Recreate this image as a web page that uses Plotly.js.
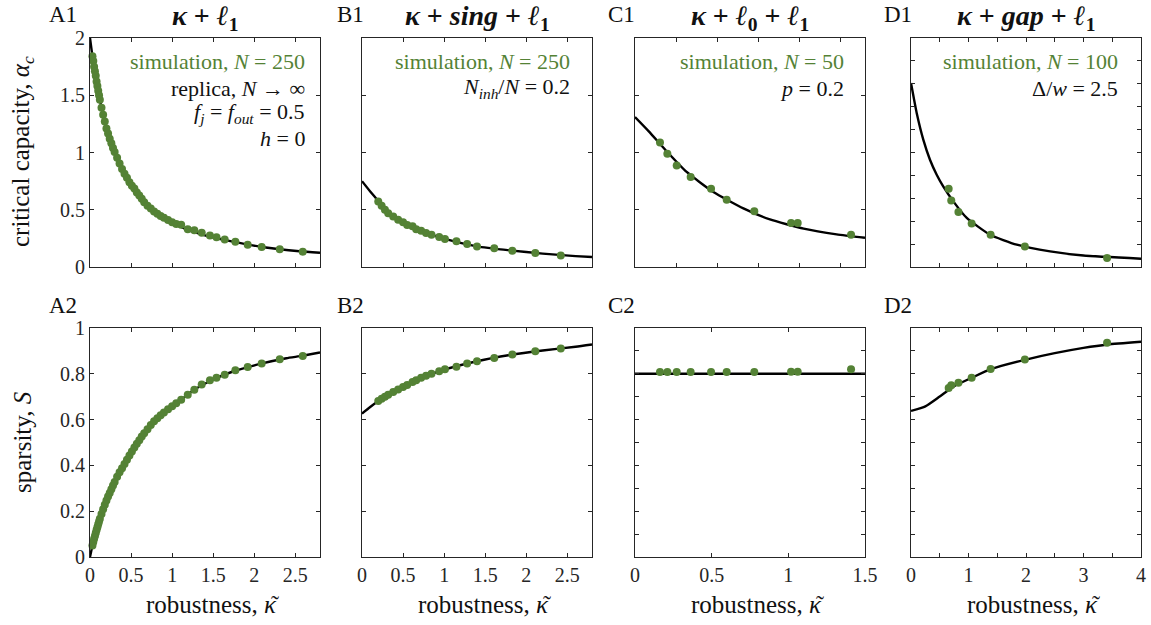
<!DOCTYPE html>
<html>
<head>
<meta charset="utf-8">
<script src="https://cdn.plot.ly/plotly-3.0.1.min.js"></script>
<style>html,body{margin:0;padding:0;background:#fff;}#chart{width:1151px;height:625px;}</style>
</head>
<body>
<div id="chart"></div>
<script>
// ---------- DATA ----------
// Panel A: kappa + l1
const A_kappa_sim = [0.03,0.04,0.05,0.06,0.07,0.08,0.09,0.10,0.11,0.12,0.14,0.16,0.18,0.20,0.22,0.24,0.26,0.28,0.30,0.33,0.36,0.39,0.42,0.45,0.48,0.51,0.54,0.57,0.60,0.63,0.66,0.70,0.74,0.78,0.82,0.86,0.90,0.95,1.00,1.05,
  1.11,1.19,1.27,1.36,1.46,1.54,1.64,1.77,1.92,2.09,2.31,2.59];
const A_alpha_sim = [1.84,1.80,1.75,1.71,1.67,1.62,1.58,1.54,1.50,1.46,1.39,1.33,1.27,1.21,1.165,1.12,1.08,1.04,1.005,0.955,0.905,0.855,0.815,0.78,0.74,0.71,0.685,0.65,0.625,0.595,0.565,0.535,0.51,0.485,0.465,0.445,0.43,0.41,0.39,0.375,
  0.37,0.33,0.32,0.30,0.276,0.26,0.24,0.22,0.195,0.175,0.154,0.134];
const A_S_sim = [0.05,0.065,0.08,0.092,0.105,0.118,0.13,0.143,0.155,0.167,0.188,0.208,0.228,0.247,0.264,0.28,0.296,0.312,0.328,0.35,0.37,0.388,0.406,0.425,0.443,0.461,0.478,0.494,0.51,0.526,0.54,0.558,0.576,0.593,0.606,0.619,0.631,0.645,0.658,0.671,
  0.687,0.708,0.73,0.753,0.772,0.783,0.796,0.815,0.83,0.845,0.863,0.878];
const A_kappa_alphaTh = [0,0.03,0.06,0.09,0.12,0.16,0.20,0.26,0.32,0.40,0.49,0.57,0.69,0.81,0.97,1.17,1.42,1.74,2.14,2.55,2.8];
const A_alpha_th = [2.0,1.84,1.71,1.58,1.46,1.33,1.21,1.08,0.97,0.84,0.73,0.65,0.54,0.47,0.40,0.33,0.272,0.222,0.17,0.138,0.125];
const A_kappa_STh = [0,0.026,0.066,0.12,0.20,0.30,0.41,0.53,0.65,0.79,0.93,1.10,1.26,1.50,1.74,2.07,2.39,2.58,2.8];
const A_S_th = [0,0.044,0.10,0.167,0.247,0.328,0.40,0.473,0.536,0.597,0.64,0.684,0.728,0.775,0.81,0.843,0.868,0.878,0.893];

// Panel B: kappa + sing + l1
const B_kappa_sim = [0.198,0.239,0.279,0.319,0.38,0.44,0.50,0.55,0.615,0.66,0.72,0.78,0.846,0.94,1.01,1.15,1.28,1.40,1.61,1.83,2.11,2.42];
const B_alpha_sim = [0.573,0.535,0.50,0.47,0.44,0.413,0.39,0.367,0.355,0.33,0.317,0.297,0.282,0.262,0.245,0.224,0.20,0.18,0.163,0.142,0.122,0.10];
const B_S_sim = [0.681,0.691,0.70,0.709,0.721,0.731,0.742,0.751,0.764,0.772,0.783,0.792,0.80,0.811,0.82,0.831,0.845,0.855,0.869,0.884,0.898,0.91];
const B_kappa_th = [0,0.1,0.2,0.3,0.4,0.5,0.75,1.0,1.4,1.8,2.2,2.6,2.8];
const B_alpha_th = [0.75,0.66,0.575,0.49,0.43,0.39,0.307,0.248,0.18,0.145,0.117,0.095,0.087];
const B_S_th = [0.626,0.655,0.681,0.703,0.723,0.742,0.785,0.818,0.855,0.882,0.902,0.918,0.928];

// Panel C: kappa + l0 + l1
const C_kappa_sim = [0.163,0.211,0.272,0.363,0.496,0.598,0.778,1.018,1.061,1.409];
const C_alpha_sim = [1.088,0.99,0.887,0.786,0.684,0.588,0.486,0.384,0.384,0.282];
const C_S_sim = [0.808,0.808,0.808,0.808,0.808,0.808,0.808,0.809,0.809,0.82];
const C_kappa_th = [0,0.09,0.2,0.337,0.511,0.707,0.88,1.10,1.315,1.5];
const C_alpha_th = [1.31,1.185,1.02,0.83,0.655,0.512,0.415,0.335,0.285,0.255];
const C_kappa_STh = [0,1.5];
const C_S_th = [0.8,0.8];

// Panel D: kappa + gap + l1
const D_kappa_sim = [0.655,0.70,0.825,1.055,1.385,1.98,3.41];
const D_alpha_sim = [0.684,0.58,0.48,0.38,0.282,0.18,0.079];
const D_S_sim = [0.738,0.75,0.761,0.783,0.821,0.862,0.936];
const D_kappa_alphaTh = [0,0.099,0.215,0.33,0.447,0.56,0.736,0.97,1.374,1.84,2.42,3.0,4.0];
const D_alpha_th = [1.607,1.345,1.11,0.937,0.806,0.704,0.573,0.428,0.282,0.195,0.136,0.10,0.072];
const D_kappa_STh = [0,0.25,0.5,0.75,1.06,1.4,2.0,2.5,3.0,3.42,4.0];
const D_S_th = [0.638,0.658,0.701,0.746,0.783,0.821,0.862,0.89,0.913,0.928,0.94];

// Labels
const panelTitles = ['<b><i>κ</i> + <i>ℓ</i><sub>1</sub></b>', '<b><i>κ</i> + <i>sing</i> + <i>ℓ</i><sub>1</sub></b>',
  '<b><i>κ</i> + <i>ℓ</i><sub>0</sub> + <i>ℓ</i><sub>1</sub></b>', '<b><i>κ</i> + <i>gap</i> + <i>ℓ</i><sub>1</sub></b>'];
const panelLabelsTop = ['A1','B1','C1','D1'];
const panelLabelsBot = ['A2','B2','C2','D2'];
const simLabels = ['simulation, <i>N</i> = 250','simulation, <i>N</i> = 250','simulation, <i>N</i> = 50','simulation, <i>N</i> = 100'];
const infoLabels = [
  ['replica, <i>N</i> → ∞', '<i>f<sub>j</sub></i> = <i>f<sub>out</sub></i> = 0.5', '<i>h</i> = 0'],
  ['<i>N<sub>inh</sub></i>/<i>N</i> = 0.2'],
  ['<i>p</i> = 0.2'],
  ['Δ/<i>w</i> = 2.5']
];
const yTitleTop = 'critical capacity, <i>α<sub>c</sub></i>';
const yTitleBot = 'sparsity, <i>S</i>';
const xTitle = 'robustness, <i>κ</i>';
const xTitleAccent = '˜';

// ---------- STYLE ----------
const FONT = 'Liberation Serif, Times New Roman, serif';
const GREEN = '#548235';
const AX = '#262626';
const W = 1151, H = 625, ML = 90, MR = 10, MT = 38, MB = 68;
const PW = W - ML - MR, PH = H - MT - MB;
const px = v => (v - ML) / PW;
const py = v => (H - MB - v) / PH;
const colL = [90, 362, 635, 911], colW = 230;
const xDom = colL.map(l => [px(l), px(l + colW)]);
const yDomTop = [py(267), 1];
const yDomBot = [0, py(328)];

function simTrace(x, y, ax, ay) {
  return {x, y, xaxis: ax, yaxis: ay, type: 'scatter', mode: 'markers', cliponaxis: false,
    marker: {color: GREEN, size: 8, line: {width: 0}}, hoverinfo: 'skip', showlegend: false};
}
function thTrace(x, y, ax, ay) {
  return {x, y, xaxis: ax, yaxis: ay, type: 'scatter', mode: 'lines',
    line: {color: '#000', width: 2.4, shape: 'spline', smoothing: 0.5}, hoverinfo: 'skip', showlegend: false};
}

const traces = [
  thTrace(A_kappa_alphaTh, A_alpha_th, 'x', 'y'), simTrace(A_kappa_sim, A_alpha_sim, 'x', 'y'),
  thTrace(B_kappa_th, B_alpha_th, 'x2', 'y2'), simTrace(B_kappa_sim, B_alpha_sim, 'x2', 'y2'),
  thTrace(C_kappa_th, C_alpha_th, 'x3', 'y3'), simTrace(C_kappa_sim, C_alpha_sim, 'x3', 'y3'),
  thTrace(D_kappa_alphaTh, D_alpha_th, 'x4', 'y4'), simTrace(D_kappa_sim, D_alpha_sim, 'x4', 'y4'),
  thTrace(A_kappa_STh, A_S_th, 'x5', 'y5'), simTrace(A_kappa_sim, A_S_sim, 'x5', 'y5'),
  thTrace(B_kappa_th, B_S_th, 'x6', 'y6'), simTrace(B_kappa_sim, B_S_sim, 'x6', 'y6'),
  thTrace(C_kappa_STh, C_S_th, 'x7', 'y7'), simTrace(C_kappa_sim, C_S_sim, 'x7', 'y7'),
  thTrace(D_kappa_STh, D_S_th, 'x8', 'y8'), simTrace(D_kappa_sim, D_S_sim, 'x8', 'y8')
];

function axis(extra) {
  return Object.assign({
    showline: true, linecolor: AX, linewidth: 1, mirror: 'ticks', ticks: 'inside', ticklen: 4,
    tickwidth: 1, tickcolor: AX, zeroline: false, showgrid: false, fixedrange: true,
    tickfont: {family: FONT, size: 20, color: AX}
  }, extra);
}

const layout = {
  width: W, height: H, margin: {l: ML, r: MR, t: MT, b: MB},
  paper_bgcolor: '#fff', plot_bgcolor: '#fff', showlegend: false,
  font: {family: FONT, color: AX},
  annotations: []
};

const xRanges = [[0, 2.8], [0, 2.8], [0, 1.5], [0, 4]];
const xTopTicks = [{dtick: 0.5, tick0: 0}, {dtick: 0.5, tick0: 0}, {dtick: 0.75 / 2.8, tick0: 0}, {dtick: 0.5, tick0: 0}];
const xBotTicks = [
  {tickvals: [0, 0.5, 1, 1.5, 2, 2.5], ticktext: ['0', '0.5', '1', '1.5', '2', '2.5']},
  {tickvals: [0, 0.5, 1, 1.5, 2, 2.5], ticktext: ['0', '0.5', '1', '1.5', '2', '2.5']},
  {tickvals: [0, 0.5, 1, 1.5], ticktext: ['0', '0.5', '1', '1.5']},
  {tickvals: [0, 0.5, 1, 1.5, 2, 2.5, 3, 3.5, 4], ticktext: ['0', ' ', '1', ' ', '2', ' ', '3', ' ', '4']}
];
const yTopRange = [[0, 2], [0, 2], [0, 2], [0, 2]];
const yTopDtick = [0.5, 0.5, 0.5, 0.2];
const yBotDtick = [0.2, 0.2, 0.1, 0.1];

for (let i = 0; i < 4; i++) {
  const t = i + 1, b = i + 5;
  const xt = t === 1 ? 'x' : 'x' + t, yt = t === 1 ? 'y' : 'y' + t;
  const xb = 'x' + b, yb = 'y' + b;
  layout['xaxis' + (t === 1 ? '' : t)] = axis(Object.assign({domain: xDom[i], range: xRanges[i], anchor: yt,
    showticklabels: false, tickmode: 'linear'}, xTopTicks[i]));
  layout['yaxis' + (t === 1 ? '' : t)] = axis({domain: yDomTop, range: yTopRange[i], anchor: xt,
    tickmode: 'linear', tick0: 0, dtick: yTopDtick[i], showticklabels: i === 0});
  layout['xaxis' + b] = axis(Object.assign({domain: xDom[i], range: xRanges[i], anchor: yb,
    tickmode: 'array', showticklabels: true}, xBotTicks[i]));
  layout['yaxis' + b] = axis({domain: yDomBot, range: [0, 1], anchor: xb,
    tickmode: 'linear', tick0: 0, dtick: yBotDtick[i], showticklabels: i === 0});

  const cx = colL[i] + colW / 2;
  // titles
  layout.annotations.push({xref: 'paper', yref: 'paper', x: px(cx), y: py(17), xanchor: 'center', yanchor: 'middle',
    text: panelTitles[i], showarrow: false, font: {family: FONT, size: 28, color: '#111'}});
  // panel labels
  const labX = [47, 335, 606, 882][i];
  layout.annotations.push({xref: 'paper', yref: 'paper', x: px(labX), y: py(14), xanchor: 'left', yanchor: 'middle',
    text: panelLabelsTop[i], showarrow: false, font: {family: FONT, size: 23, color: '#111'}});
  layout.annotations.push({xref: 'paper', yref: 'paper', x: px(labX), y: py(305), xanchor: 'left', yanchor: 'middle',
    text: panelLabelsBot[i], showarrow: false, font: {family: FONT, size: 23, color: '#111'}});
  // x titles (kappa with tilde accent placed above it)
  layout.annotations.push({xref: 'paper', yref: 'paper', x: px(cx + 74), y: py(604), xanchor: 'right', yanchor: 'middle',
    text: xTitle, showarrow: false, font: {family: FONT, size: 25, color: '#111'}});
  layout.annotations.push({xref: 'paper', yref: 'paper', x: px(cx + 70), y: py(604), xanchor: 'center', yanchor: 'middle',
    text: xTitleAccent, showarrow: false, font: {family: FONT, size: 24, color: '#111'}});
  // in-panel text
  const rx = [307, 572, 846, 1120][i];
  const lineY = [62, 88, 113, 138];
  layout.annotations.push({xref: 'paper', yref: 'paper', x: px(rx), y: py(lineY[0]), xanchor: 'right', yanchor: 'middle',
    text: simLabels[i], showarrow: false, font: {family: FONT, size: 22, color: GREEN}});
  infoLabels[i].forEach((s, k) => {
    layout.annotations.push({xref: 'paper', yref: 'paper', x: px(rx), y: py(lineY[k + 1]), xanchor: 'right', yanchor: 'middle',
      text: s, showarrow: false, font: {family: FONT, size: 22, color: '#111'}});
  });
}
// y titles
layout.annotations.push({xref: 'paper', yref: 'paper', x: px(22), y: py(152), xanchor: 'center', yanchor: 'middle',
  textangle: -90, text: yTitleTop, showarrow: false, font: {family: FONT, size: 25, color: '#111'}});
layout.annotations.push({xref: 'paper', yref: 'paper', x: px(22), y: py(442), xanchor: 'center', yanchor: 'middle',
  textangle: -90, text: yTitleBot, showarrow: false, font: {family: FONT, size: 25, color: '#111'}});

Plotly.newPlot('chart', traces, layout, {displayModeBar: false, staticPlot: true});
</script>
</body>
</html>
